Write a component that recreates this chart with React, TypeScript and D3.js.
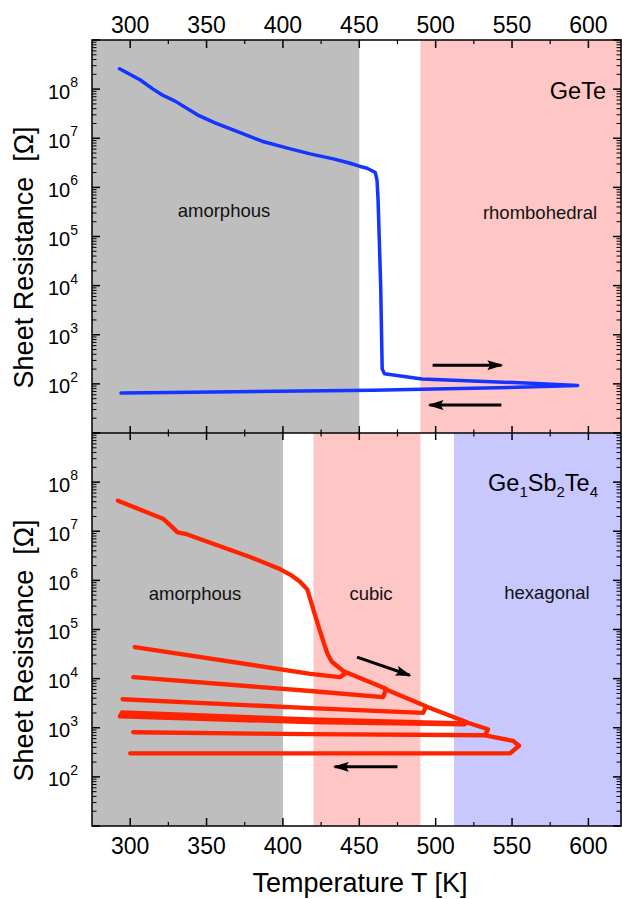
import React from 'react';
import * as d3 from 'd3';

// temperature axis
const tempTicks = [300, 350, 400, 450, 500, 550, 600];
const tempMinorTicks = [325, 375, 425, 475, 525, 575];
const decadeLabels = [2, 3, 4, 5, 6, 7, 8];

// GeTe sheet resistance, heating then cooling
const geTeT = [293, 306.4, 315, 321, 329.4, 344, 355.5, 372, 386.3, 403, 417.8, 433, 444, 450, 455.1, 458, 460.5, 461.6, 462.3, 464, 465, 466.5, 491, 566, 593, 553, 491, 459, 326, 294];
const geTeR = [2.6e8, 1.55e8, 1.0e8, 7.6e7, 5.7e7, 3.0e7, 2.05e7, 1.3e7, 8.7e6, 6.3e6, 4.8e6, 3.8e6, 3.1e6, 2.7e6, 2.45e6, 2.2e6, 2.0e6, 1.4e6, 5.5e5, 1.0e4, 200, 160, 126, 102, 93, 85, 78, 74, 67, 65];

// Ge1Sb2Te4 sheet resistance, repeated heat/cool cycles
const gstT = [
  292, 306, 321.5, 326, 331, 337, 357, 378.5, 398, 405, 411, 416, 420, 424, 429, 432, 438.7,
  441.3, 437.4, 418, 303, 418, 437.4, 441.3,
  467.5, 465.6, 418, 302, 418, 465.6, 467.5,
  493.7, 491.8, 418, 295, 418, 491.8, 493.7,
  520.6, 518.6, 418, 294.6, 293.3, 418, 518.6, 520.6,
  534.3, 532.4, 418, 302, 418, 532.4, 550.7,
  554.6, 548.7, 418, 300,
];
const gstR = [
  4.2e7, 2.8e7, 1.8e7, 1.35e7, 9.5e6, 8.7e6, 5.2e6, 3.0e6, 1.7e6, 1.3e6, 9.5e5, 6.5e5, 2.5e5, 9.8e4, 3.3e4, 2.2e4, 1.5e4,
  1.3e4, 1.07e4, 1.25e4, 4.4e4, 1.25e4, 1.07e4, 1.35e4,
  6.2e3, 4.2e3, 5.6e3, 1.07e4, 5.6e3, 4.2e3, 6.0e3,
  2.75e3, 2.0e3, 2.5e3, 3.8e3, 2.5e3, 2.0e3, 2.7e3,
  1.3e3, 1.23e3, 1.48e3, 2.05e3, 1.7e3, 1.3e3, 1.17e3, 1.28e3,
  930, 710, 740, 810, 740, 700, 540,
  430, 300, 300, 300,
];

// phase regions (K)
const geTeBandFrom = [275, 490];
const geTeBandTo = [450, 622];
const gstBandFrom = [275, 420, 512];
const gstBandTo = [400, 490, 622];

// heating / cooling arrows: [T0, R0, T1, R1]
const geTeArrows = [[498, 240, 543, 240], [543, 37, 496, 37]];
const gstArrows = [[448.5, 2.75e4, 483, 1.17e4], [475, 160, 434, 160]];

const W = 622;
const H = 899;
const left = 92;
const right = 621;
const topY = 40;
const midY = 433;
const botY = 826;
const font = 'Liberation Sans, Arial, sans-serif';

const bandColors = ['#bebebe', '#ffc6c6', '#c8c8ff'];

const x = d3.scaleLinear().domain([275, 622]).range([left, 622]);

function Panel({ y0, y1, T, R, bandFrom, bandTo, arrows, color, width }) {
  const y = d3.scaleLog().domain([10, 1e9]).range([y1, y0]);
  const line = d3.line<number>().x(i => x(T[i])).y(i => y(R[i]));
  const idx = T.map((_, i) => i);

  const minor: number[] = [];
  for (let d = 1; d < 9; d++) for (let m = 2; m < 10; m++) minor.push(m * Math.pow(10, d));
  const major = d3.range(1, 10).map(d => Math.pow(10, d));

  return (
    <g>
      {bandFrom.map((b, i) => (
        <rect key={i} x={x(b)} y={y0} width={Math.min(x(bandTo[i]), 622) - x(b)} height={y1 - y0} fill={bandColors[i]} />
      ))}
      <path d={line(idx) || ''} fill="none" stroke={color} strokeWidth={width} strokeLinejoin="round" strokeLinecap="round" />
      {arrows.map((a, i) => (
        <line key={i} x1={x(a[0])} y1={y(a[1])} x2={x(a[2])} y2={y(a[3])} stroke="#000" strokeWidth={3} markerEnd="url(#head)" />
      ))}
      {major.map(v => (
        <g key={'M' + v}>
          <line x1={left} x2={left + 8} y1={y(v)} y2={y(v)} stroke="#000" strokeWidth={1.5} />
          <line x1={right - 8} x2={right} y1={y(v)} y2={y(v)} stroke="#000" strokeWidth={1.5} />
        </g>
      ))}
      {minor.map(v => (
        <g key={'m' + v}>
          <line x1={left} x2={left + 4.5} y1={y(v)} y2={y(v)} stroke="#000" strokeWidth={1} />
          <line x1={right - 4.5} x2={right} y1={y(v)} y2={y(v)} stroke="#000" strokeWidth={1} />
        </g>
      ))}
      {decadeLabels.map(d => (
        <text key={d} x={78} y={y(Math.pow(10, d)) + 9.5} textAnchor="end" fontFamily={font} fontSize={20} fill="#000">
          10<tspan fontSize={14} dy={-11.5}>{d}</tspan>
        </text>
      ))}
      <text transform={`translate(33,${(y0 + y1) / 2 + 21}) rotate(-90)`} textAnchor="middle" fontFamily={font} fontSize={27} fill="#000">
        {'Sheet Resistance\u00a0\u00a0[Ω]'}
      </text>
    </g>
  );
}

export default function App() {
  return (
    <svg width={W} height={H} style={{ position: 'absolute', left: 0, top: 0, background: '#fff' }}>
      <defs>
        <marker id="head" viewBox="0 0 16 10" refX={14} refY={5} markerWidth={16} markerHeight={10} markerUnits="userSpaceOnUse" orient="auto">
          <path d="M0,0 L16,5 L0,10 L3,5 Z" fill="#000" />
        </marker>
      </defs>
      <Panel y0={topY} y1={midY} T={geTeT} R={geTeR} bandFrom={geTeBandFrom} bandTo={geTeBandTo} arrows={geTeArrows} color="#1434ff" width={3.5} />
      <Panel y0={midY} y1={botY} T={gstT} R={gstR} bandFrom={gstBandFrom} bandTo={gstBandTo} arrows={gstArrows} color="#ff2400" width={4.3} />

      {/* phase labels */}
      <g fontFamily={font} fontSize={18.5} fill="#111" textAnchor="middle">
        <text x={224} y={217}>amorphous</text>
        <text x={540} y={219}>rhombohedral</text>
        <text x={195} y={600}>amorphous</text>
        <text x={371} y={600}>cubic</text>
        <text x={547} y={599}>hexagonal</text>
      </g>
      <text x={606} y={99} textAnchor="end" fontFamily={font} fontSize={23.5} fill="#000">GeTe</text>
      <text x={598} y={491} textAnchor="end" fontFamily={font} fontSize={23.5} fill="#000">
        Ge<tspan fontSize={15} dy={6}>1</tspan><tspan dy={-6}>Sb</tspan><tspan fontSize={15} dy={6}>2</tspan><tspan dy={-6}>Te</tspan><tspan fontSize={15} dy={6}>4</tspan>
      </text>

      {/* frame */}
      <rect x={left} y={topY} width={right - left} height={botY - topY} fill="none" stroke="#000" strokeWidth={1.5} />
      <line x1={left} x2={right} y1={midY} y2={midY} stroke="#000" strokeWidth={1.5} />

      {/* temperature ticks */}
      {tempTicks.map(t => (
        <g key={t} stroke="#000" strokeWidth={1.5}>
          <line x1={x(t)} x2={x(t)} y1={topY} y2={topY + 8} />
          <line x1={x(t)} x2={x(t)} y1={midY - 7} y2={midY + 7} />
          <line x1={x(t)} x2={x(t)} y1={botY - 8} y2={botY} />
        </g>
      ))}
      {tempMinorTicks.map(t => (
        <g key={t} stroke="#000" strokeWidth={1.2}>
          <line x1={x(t)} x2={x(t)} y1={topY} y2={topY + 4} />
          <line x1={x(t)} x2={x(t)} y1={midY - 3.5} y2={midY + 3.5} />
          <line x1={x(t)} x2={x(t)} y1={botY - 4} y2={botY} />
        </g>
      ))}
      {tempTicks.map(t => (
        <g key={'l' + t} fontFamily={font} fontSize={23} textAnchor="middle" fill="#000">
          <text x={x(t)} y={33}>{t}</text>
          <text x={x(t)} y={854}>{t}</text>
        </g>
      ))}
      <text x={360} y={892} textAnchor="middle" fontFamily={font} fontSize={27} fill="#000">Temperature T [K]</text>
    </svg>
  );
}
